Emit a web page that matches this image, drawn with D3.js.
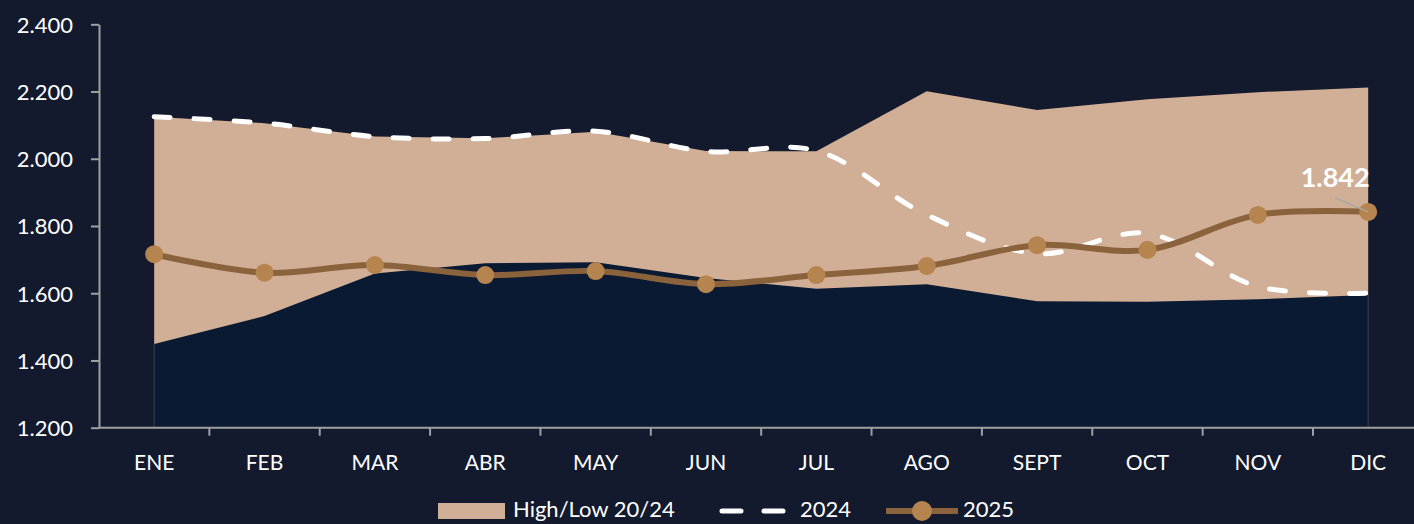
<!DOCTYPE html>
<html>
<head>
<meta charset="utf-8">
<script src="https://cdn.jsdelivr.net/npm/d3@7"></script>
<style>
  html, body { margin: 0; padding: 0; background: #131a2d; }
  svg { display: block; }
  text { font-family: Lato, "Open Sans", sans-serif; }
</style>
</head>
<body>
<svg id="chart" width="1414" height="524"></svg>
<script>
// Monthly values
const months = ["ENE", "FEB", "MAR", "ABR", "MAY", "JUN", "JUL", "AGO", "SEPT", "OCT", "NOV", "DIC"];
const high2024 = [2125, 2106, 2066, 2061, 2080, 2023, 2022, 2201, 2145, 2177, 2198, 2212];
const low2024  = [1449, 1532, 1659, 1689, 1692, 1645, 1613, 1627, 1576, 1575, 1582, 1595];
const year2024 = [2125, 2106, 2066, 2060, 2082, 2022, 2024, 1833, 1718, 1778, 1620, 1600];
const year2025 = [1716, 1661, 1684, 1654, 1666, 1627, 1654, 1681, 1743, 1729, 1833, 1842];
const yTicks = [1200, 1400, 1600, 1800, 2000, 2200, 2400];

const fmt = v => d3.format(",")(v).replace(/,/g, ".");

const W = 1414, H = 524;
const plotLeft = 99, plotTop = 24.3, plotBottom = 427.7;
const step = (1369 - 155) / (months.length - 1);

const svg = d3.select("#chart");

const x = d3.scaleBand().domain(months).range([plotLeft, plotLeft + step * months.length]).paddingInner(0).paddingOuter(0);
const cx = m => x(m) + x.bandwidth() / 2;
const y = d3.scaleLinear().domain([1200, 2400]).range([plotBottom, plotTop]);

const rows = months.map((m, i) => ({ m, hi: high2024[i], lo: low2024[i], a: year2024[i], b: year2025[i] }));

// Area below the low boundary
svg.append("path")
  .datum(rows)
  .attr("fill", "#091a32")
  .attr("d", d3.area().x(d => cx(d.m)).y0(y(1200)).y1(d => y(d.lo)));

// Edges of the lower area
svg.selectAll("line.edge")
  .data([rows[0], rows[rows.length - 1]])
  .join("line")
  .attr("class", "edge")
  .attr("x1", d => cx(d.m)).attr("x2", d => cx(d.m))
  .attr("y1", d => y(d.lo)).attr("y2", y(1200))
  .attr("stroke", "#3a4152").attr("stroke-width", 1);

// High/Low band
svg.append("path")
  .datum(rows)
  .attr("fill", "#d1ae96")
  .attr("d", d3.area().x(d => cx(d.m)).y0(d => y(d.lo)).y1(d => y(d.hi)));

// Y axis
const yAxis = d3.axisLeft(y).tickValues(yTicks).tickFormat(fmt).tickSizeInner(8).tickSizeOuter(0).tickPadding(18);
const gy = svg.append("g").attr("transform", `translate(${plotLeft},0)`).call(yAxis);
gy.select(".domain").attr("stroke", "#a0a0a0").attr("stroke-width", 2);
gy.selectAll(".tick line").attr("stroke", "#a0a0a0").attr("stroke-width", 2);
gy.selectAll(".tick text").attr("fill", "#ffffff").attr("font-size", 22).attr("dy", "0.36em");

// X axis
const xAxis = d3.axisBottom(x).tickSize(0).tickPadding(0);
const gx = svg.append("g").attr("transform", `translate(0,${plotBottom})`).call(xAxis);
gx.select(".domain").remove();
gx.selectAll(".tick text").attr("fill", "#ffffff").attr("font-size", 21).attr("y", 42).attr("dy", null);
gx.append("line").attr("x1", plotLeft).attr("x2", W).attr("y1", 0).attr("y2", 0)
  .attr("stroke", "#a0a0a0").attr("stroke-width", 2);
gx.selectAll("line.xt")
  .data(months.slice(1))
  .join("line")
  .attr("class", "xt")
  .attr("x1", d => x(d)).attr("x2", d => x(d))
  .attr("y1", 0).attr("y2", 8)
  .attr("stroke", "#a0a0a0").attr("stroke-width", 2);

// 2024 dashed line
const smooth = d3.curveCatmullRom.alpha(0.5);
svg.append("path")
  .datum(rows)
  .attr("fill", "none")
  .attr("stroke", "#ffffff")
  .attr("stroke-width", 5)
  .attr("stroke-linecap", "round")
  .attr("stroke-dasharray", "16 24")
  .attr("d", d3.line().x(d => cx(d.m)).y(d => y(d.a)).curve(smooth));

// 2025 line with markers
svg.append("path")
  .datum(rows)
  .attr("fill", "none")
  .attr("stroke", "#8a623b")
  .attr("stroke-width", 6)
  .attr("d", d3.line().x(d => cx(d.m)).y(d => y(d.b)).curve(smooth));

svg.selectAll("circle.p25")
  .data(rows)
  .join("circle")
  .attr("class", "p25")
  .attr("cx", d => cx(d.m)).attr("cy", d => y(d.b))
  .attr("r", 9)
  .attr("fill", "#b5844f");

// Last value label
const last = rows[rows.length - 1];
svg.append("line")
  .attr("x1", cx(last.m) - 33).attr("y1", y(last.b) - 14)
  .attr("x2", cx(last.m)).attr("y2", y(last.b))
  .attr("stroke", "#a6a6a6").attr("stroke-width", 1.5);
svg.append("text")
  .attr("x", cx(last.m) - 33).attr("y", y(last.b) - 25)
  .attr("text-anchor", "middle")
  .attr("fill", "#ffffff").attr("font-size", 27).attr("font-weight", "bold")
  .text(fmt(last.b));

// Legend
const lg = svg.append("g").attr("font-size", 22).attr("fill", "#ffffff");
lg.append("rect").attr("x", 438).attr("y", 503).attr("width", 67).attr("height", 16).attr("fill", "#d1ae96");
lg.append("text").attr("x", 513).attr("y", 517).attr("fill", "#ffffff").text("High/Low 20/24");
lg.append("line").attr("x1", 722).attr("x2", 786).attr("y1", 511).attr("y2", 511)
  .attr("stroke", "#ffffff").attr("stroke-width", 5).attr("stroke-linecap", "round")
  .attr("stroke-dasharray", "19 23");
lg.append("text").attr("x", 800).attr("y", 517).attr("fill", "#ffffff").text("2024");
lg.append("line").attr("x1", 886).attr("x2", 958).attr("y1", 511).attr("y2", 511)
  .attr("stroke", "#8a623b").attr("stroke-width", 6);
lg.append("circle").attr("cx", 922).attr("cy", 511).attr("r", 10).attr("fill", "#b5844f");
lg.append("text").attr("x", 963).attr("y", 517).attr("fill", "#ffffff").text("2025");
</script>
</body>
</html>
